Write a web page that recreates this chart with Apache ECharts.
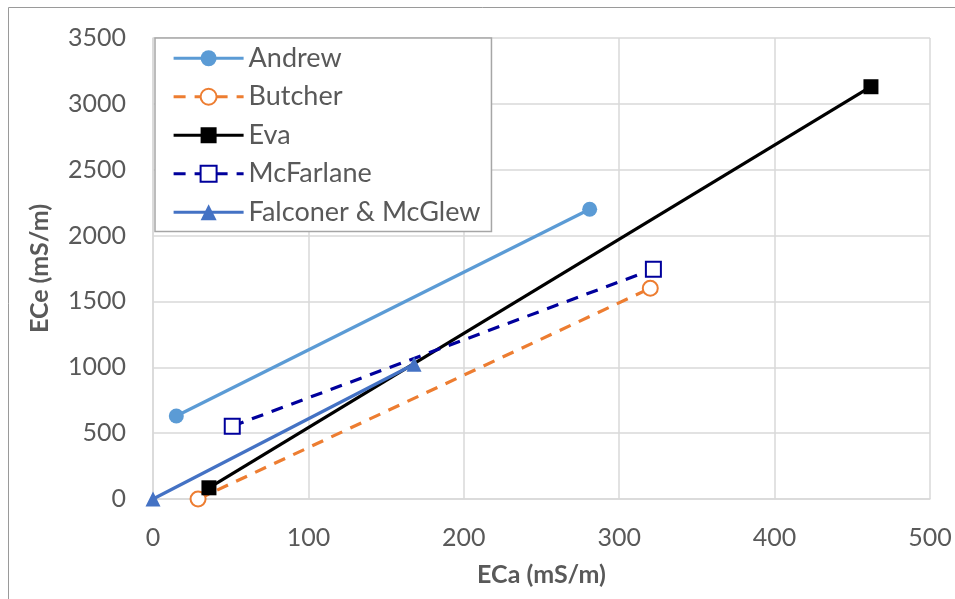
<!DOCTYPE html>
<html>
<head>
<meta charset="utf-8">
<script src="https://cdn.jsdelivr.net/npm/echarts@6/dist/echarts.min.js"></script>
<style>
html,body{margin:0;padding:0;background:#fff;}
#c{width:955px;height:599px;}
</style>
</head>
<body>
<div id="c"></div>
<script>
const seriesNames = ['Andrew', 'Butcher', 'Eva', 'McFarlane', 'Falconer & McGlew'];
const andrew = [[15, 630], [281, 2200]];
const butcher = [[29, 0], [320, 1600]];
const eva = [[36, 85], [462, 3130]];
const mcfarlane = [[51, 553], [322, 1745]];
const falconer = [[0, 0], [168, 1023]];
const xTicks = [0, 100, 200, 300, 400, 500];
const yTicks = [0, 500, 1000, 1500, 2000, 2500, 3000, 3500];

const FONT = 'Lato, "Open Sans", sans-serif';
const chart = echarts.init(document.getElementById('c'));

function mk(name, data, color, symbol, dashed, filled) {
  return {
    name: name, type: 'line', data: data,
    symbol: symbol, symbolSize: 15, showSymbol: true,
    lineStyle: { color: color, width: 3.2, type: dashed ? [12, 9] : 'solid' },
    itemStyle: filled ? { color: color } : { color: color, borderWidth: 2.2 },
    emphasis: { disabled: true },
    animation: false
  };
}

chart.setOption({
  animation: false,
  backgroundColor: '#fff',
  graphic: [{
    type: 'rect', shape: { x: 8.5, y: 7.5, width: 980, height: 620 },
    style: { fill: null, stroke: '#9a9a9a', lineWidth: 1 }, silent: true
  }],
  grid: { left: 153, right: 25, top: 38, bottom: 100, containLabel: false, outerBoundsMode: 'none' },
  legend: {
    orient: 'vertical', left: 155, top: 38,
    data: seriesNames,
    itemWidth: 70, itemHeight: 20, itemGap: 10,
    padding: [6, 11, 5, 17],
    backgroundColor: '#fff', borderColor: '#a6a6a6', borderWidth: 1.5,
    lineStyle: { width: 3.2 },
    textStyle: { fontFamily: FONT, fontSize: 27, color: '#595959', lineHeight: 28.5 }
  },
  xAxis: {
    type: 'value', min: 0, max: 500, interval: 100,
    name: 'ECa (mS/m)', nameLocation: 'middle', nameGap: 63,
    nameTextStyle: { fontFamily: FONT, fontSize: 25, fontWeight: 'bold', color: '#595959' },
    axisLine: { show: true, lineStyle: { color: '#d9d9d9', width: 1.5 } },
    axisTick: { show: false },
    splitLine: { show: true, lineStyle: { color: '#d9d9d9', width: 1.5 } },
    axisLabel: { fontFamily: FONT, fontSize: 25, color: '#595959', margin: 26,
      formatter: v => xTicks.includes(v) ? String(v) : '' }
  },
  yAxis: {
    type: 'value', min: 0, max: 3500, interval: 500,
    name: 'ECe (mS/m)', nameLocation: 'middle', nameGap: 101, nameRotate: 90,
    nameTextStyle: { fontFamily: FONT, fontSize: 25, fontWeight: 'bold', color: '#595959' },
    axisLine: { show: true, lineStyle: { color: '#d9d9d9', width: 1.5 } },
    axisTick: { show: false },
    splitLine: { show: true, lineStyle: { color: '#d9d9d9', width: 1.5 } },
    axisLabel: { fontFamily: FONT, fontSize: 25, color: '#595959', margin: 27,
      formatter: v => yTicks.includes(v) ? String(v) : '' }
  },
  series: [
    mk(seriesNames[0], andrew, '#5B9BD5', 'circle', false, true),
    mk(seriesNames[1], butcher, '#ED7D31', 'emptyCircle', true, false),
    mk(seriesNames[2], eva, '#000000', 'rect', false, true),
    mk(seriesNames[3], mcfarlane, '#00009C', 'emptyRect', true, false),
    mk(seriesNames[4], falconer, '#4472C4', 'triangle', false, true)
  ]
});
</script>
</body>
</html>
